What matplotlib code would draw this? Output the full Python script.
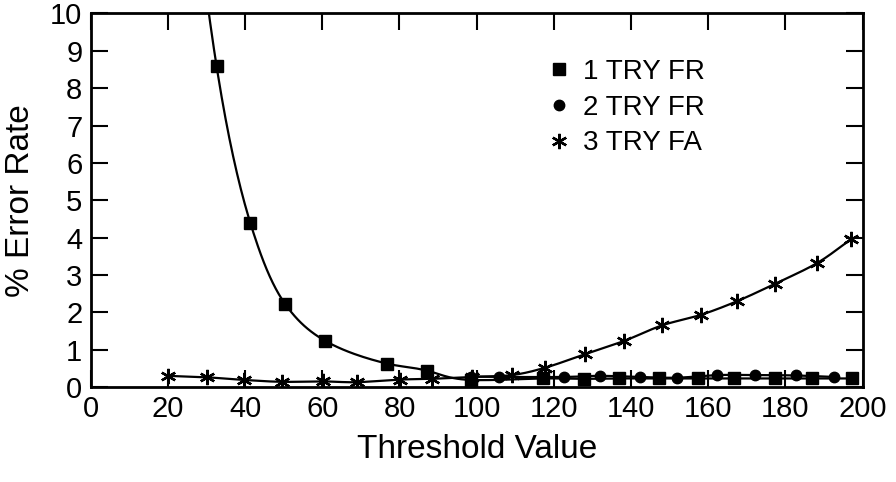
import numpy as np
import matplotlib.pyplot as plt

# Data
fr1_x = [32.6, 41.4, 50.4, 60.7, 76.7, 87.1, 98.5, 117.3, 127.7, 137.0, 147.2,
         157.3, 166.6, 177.4, 186.9, 197.3]
fr1_y = [8.60, 4.38, 2.22, 1.24, 0.63, 0.44, 0.19, 0.23, 0.22, 0.23, 0.23,
         0.23, 0.23, 0.23, 0.23, 0.23]

fr2_x = [98.5, 105.9, 122.5, 131.9, 142.4, 151.8, 162.3, 172.2, 182.6, 192.6]
fr2_y = [0.28, 0.27, 0.27, 0.30, 0.27, 0.25, 0.32, 0.32, 0.31, 0.27]

fa3_x = [20.0, 30.2, 39.7, 49.5, 60.3, 68.9, 80.2, 88.4, 98.7, 109.1, 117.8,
         128.1, 138.1, 148.0, 158.0, 167.5, 177.4, 188.2, 196.9]
fa3_y = [0.30, 0.26, 0.19, 0.14, 0.15, 0.13, 0.20, 0.22, 0.27, 0.32, 0.52,
         0.88, 1.23, 1.65, 1.93, 2.30, 2.77, 3.32, 3.95]

labels = ['1 TRY FR', '2 TRY FR', '3 TRY FA']


def smooth(x, y, n=24, log=False, t0=0.0):
    """Catmull-Rom curve through the points (only used to draw the line)"""
    x = np.asarray(x, float)
    y = np.log(y) if log else np.asarray(y, float)
    px = np.concatenate([[2 * x[0] - x[1]], x, [2 * x[-1] - x[-2]]])
    py = np.concatenate([[2 * y[0] - y[1]], y, [2 * y[-1] - y[-2]]])
    xs, ys = [], []
    for i in range(1, len(px) - 2):
        start = t0 if i == 1 else 0.0
        t = np.linspace(start, 1, n)
        for p, out in ((px, xs), (py, ys)):
            p0, p1, p2, p3 = p[i - 1], p[i], p[i + 1], p[i + 2]
            seg = 0.5 * ((2 * p1) + (-p0 + p2) * t +
                         (2 * p0 - 5 * p1 + 4 * p2 - p3) * t ** 2 +
                         (-p0 + 3 * p1 - 3 * p2 + p3) * t ** 3)
            out.append(seg)
    xs, ys = np.concatenate(xs), np.concatenate(ys)
    return xs, (np.exp(ys) if log else ys)


plt.rcParams['font.family'] = ['Liberation Sans', 'DejaVu Sans']

fig = plt.figure(figsize=(8.96, 4.82), dpi=100)
ax = fig.add_axes([0.1012, 0.197, 0.8616, 0.775])

# smooth lines through the points (the FR curve runs on past the top edge)
for x, y, lg, t0 in ((fr1_x, fr1_y, True, -0.3), (fr2_x, fr2_y, False, 0.0),
                     (fa3_x, fa3_y, False, 0.0)):
    sx, sy = smooth(x, y, log=lg, t0=t0)
    ax.plot(sx, sy, color='black', lw=1.6)

star = (6, 2, 0)
h1, = ax.plot(fr1_x, fr1_y, 's', color='black', ms=9, ls='none')
h2, = ax.plot(fr2_x, fr2_y, 'o', color='black', ms=7.5, ls='none')
h3, = ax.plot(fa3_x, fa3_y, marker=star, color='black', ms=11, mew=1.7, ls='none')

ax.set_xlim(0, 200)
ax.set_ylim(0, 10)
ax.set_xticks(np.arange(0, 201, 20))
ax.set_yticks(np.arange(0, 11, 1))
ax.tick_params(direction='in', length=12, width=1.5, top=True, right=True,
               labelsize=21, pad=6)
for s in ax.spines.values():
    s.set_linewidth(2)

ax.set_xlabel('Threshold Value', fontsize=24, labelpad=8)
ax.set_ylabel('% Error Rate', fontsize=24, labelpad=10)

ax.legend([h1, h2, h3], labels, frameon=False, fontsize=20, handlelength=0.8,
          handletextpad=0.45, labelspacing=0.35, loc='upper left',
          bbox_to_anchor=(0.56, 0.945))

fig.savefig('out.png', dpi=100)
